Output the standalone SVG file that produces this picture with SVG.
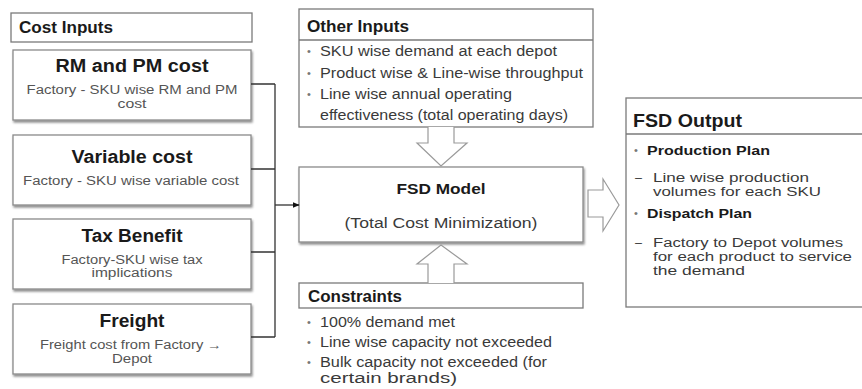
<svg xmlns="http://www.w3.org/2000/svg" width="862" height="389" viewBox="0 0 862 389">
  <defs>
    <filter id="shadow" x="-5%" y="-10%" width="115%" height="130%">
      <feDropShadow dx="1" dy="2" stdDeviation="1" flood-color="#000" flood-opacity="0.45"/>
    </filter>
    <marker id="head" viewBox="0 0 10 10" refX="9" refY="5" markerWidth="7" markerHeight="7" orient="auto" markerUnits="userSpaceOnUse">
      <path d="M0,1 L10,5 L0,9 Z" fill="#111"/>
    </marker>
    <style>
      text { font-family: "Liberation Sans", Arial, sans-serif; }
      .box { fill: #fff; stroke: #7a7a7a; stroke-width: 1.3; }
      .card { fill: #fff; stroke: #8a8a8a; stroke-width: 1.3; filter: url(#shadow); }
      .head { font-weight: bold; font-size: 16px; fill: #1a1a1a; }
      .ttl { font-weight: bold; font-size: 18px; fill: #1a1a1a; text-anchor: middle; }
      .sub { font-size: 12px; fill: #555; text-anchor: middle; }
      .body { font-size: 14px; fill: #3a3a3a; }
      .out { font-size: 12.5px; fill: #3a3a3a; }
      .bul { font-size: 11px; fill: #777; }
      .bold { font-weight: bold; fill: #1a1a1a; }
      .wire { fill: none; stroke: #333; stroke-width: 1.3; }
      .hollow { fill: #fff; stroke: #9a9a9a; stroke-width: 1.2; }
    </style>
  </defs>

  <!-- cost inputs column -->
  <g id="cost-inputs">
    <rect class="box" x="11" y="13" width="241" height="29"/>
    <text class="head" x="19" y="33" textLength="94" lengthAdjust="spacingAndGlyphs">Cost Inputs</text>
  </g>

  <g id="rm-pm-cost">
    <rect class="card" x="13" y="50" width="238" height="70"/>
    <text class="ttl" x="132" y="72" textLength="153" lengthAdjust="spacingAndGlyphs">RM and PM cost</text>
    <text class="sub" x="132" y="94" textLength="211" lengthAdjust="spacingAndGlyphs">Factory - SKU wise RM and PM</text>
    <text class="sub" x="132" y="108" textLength="29" lengthAdjust="spacingAndGlyphs">cost</text>
  </g>

  <g id="variable-cost">
    <rect class="card" x="13" y="135" width="238" height="70"/>
    <text class="ttl" x="132" y="163" textLength="121" lengthAdjust="spacingAndGlyphs">Variable cost</text>
    <text class="sub" x="131" y="185" textLength="216" lengthAdjust="spacingAndGlyphs">Factory - SKU wise variable cost</text>
  </g>

  <g id="tax-benefit">
    <rect class="card" x="13" y="219" width="238" height="70"/>
    <text class="ttl" x="132" y="242" textLength="101" lengthAdjust="spacingAndGlyphs">Tax Benefit</text>
    <text class="sub" x="132" y="264" textLength="141" lengthAdjust="spacingAndGlyphs">Factory-SKU wise tax</text>
    <text class="sub" x="132" y="277" textLength="81" lengthAdjust="spacingAndGlyphs">implications</text>
  </g>

  <g id="freight">
    <rect class="card" x="13" y="304" width="238" height="70"/>
    <text class="ttl" x="132" y="327" textLength="65" lengthAdjust="spacingAndGlyphs">Freight</text>
    <text class="sub" x="131" y="349" textLength="182" lengthAdjust="spacingAndGlyphs">Freight cost from Factory →</text>
    <text class="sub" x="132" y="363" textLength="40" lengthAdjust="spacingAndGlyphs">Depot</text>
  </g>

  <!-- other inputs -->
  <g id="other-inputs">
    <rect class="box" x="299" y="9" width="294" height="118"/>
    <line x1="299" y1="40" x2="593" y2="40" stroke="#7a7a7a" stroke-width="1.3"/>
    <text class="head" x="307" y="32" textLength="102" lengthAdjust="spacingAndGlyphs">Other Inputs</text>
    <text class="bul" x="307" y="55">•</text>
    <text class="body" x="320" y="56" textLength="237" lengthAdjust="spacingAndGlyphs">SKU wise demand at each depot</text>
    <text class="bul" x="307" y="77">•</text>
    <text class="body" x="320" y="78" textLength="263" lengthAdjust="spacingAndGlyphs">Product wise &amp; Line-wise throughput</text>
    <text class="bul" x="307" y="98">•</text>
    <text class="body" x="320" y="99" textLength="192" lengthAdjust="spacingAndGlyphs">Line wise annual operating</text>
    <text class="body" x="320" y="120" textLength="248" lengthAdjust="spacingAndGlyphs">effectiveness (total operating days)</text>
  </g>

  <!-- model -->
  <g id="fsd-model">
    <rect class="card" x="299" y="167" width="284" height="75"/>
    <text class="bold" x="441" y="194" font-size="15" text-anchor="middle" textLength="89" lengthAdjust="spacingAndGlyphs">FSD Model</text>
    <text class="body" x="441" y="228" text-anchor="middle" textLength="193" lengthAdjust="spacingAndGlyphs">(Total Cost Minimization)</text>
  </g>

  <!-- constraints -->
  <g id="constraints">
    <rect class="box" x="299" y="283" width="284" height="25"/>
    <text class="head" x="308" y="302" textLength="94" lengthAdjust="spacingAndGlyphs">Constraints</text>
    <text class="bul" x="307" y="326">•</text>
    <text class="body" x="320" y="327" textLength="135" lengthAdjust="spacingAndGlyphs">100% demand met</text>
    <text class="bul" x="307" y="346">•</text>
    <text class="body" x="320" y="347" textLength="232" lengthAdjust="spacingAndGlyphs">Line wise capacity not exceeded</text>
    <text class="bul" x="307" y="366">•</text>
    <text class="body" x="320" y="367" textLength="227" lengthAdjust="spacingAndGlyphs">Bulk capacity not exceeded (for</text>
    <text class="body" x="320" y="383" textLength="137" lengthAdjust="spacingAndGlyphs">certain brands)</text>
  </g>

  <!-- output -->
  <g id="fsd-output">
    <rect class="box" x="626" y="98" width="240" height="209"/>
    <line x1="626" y1="134" x2="862" y2="134" stroke="#7a7a7a" stroke-width="1.3"/>
    <text class="bold" x="633" y="127" font-size="18" textLength="109" lengthAdjust="spacingAndGlyphs">FSD Output</text>
    <text class="bul" x="634" y="154">•</text>
    <text class="out bold" x="647" y="155" font-size="14" textLength="123" lengthAdjust="spacingAndGlyphs">Production Plan</text>
    <text class="out" x="635" y="182">–</text>
    <text class="out" x="653" y="182" textLength="156" lengthAdjust="spacingAndGlyphs">Line wise production</text>
    <text class="out" x="653" y="196" textLength="168" lengthAdjust="spacingAndGlyphs">volumes for each SKU</text>
    <text class="bul" x="634" y="217">•</text>
    <text class="out bold" x="647" y="218" font-size="14" textLength="105" lengthAdjust="spacingAndGlyphs">Dispatch Plan</text>
    <text class="out" x="635" y="247">–</text>
    <text class="out" x="653" y="247" textLength="190" lengthAdjust="spacingAndGlyphs">Factory to Depot volumes</text>
    <text class="out" x="653" y="261" textLength="199" lengthAdjust="spacingAndGlyphs">for each product to service</text>
    <text class="out" x="653" y="275" textLength="92" lengthAdjust="spacingAndGlyphs">the demand</text>
  </g>

  <!-- connectors -->
  <g id="connectors">
    <path class="wire" d="M251,84 H275 M251,169 H275 M251,252 H275 M251,337 H275 M275,84 V337"/>
    <line class="wire" x1="275" y1="205" x2="299" y2="205" marker-end="url(#head)"/>
    <!-- hollow block arrows -->
    <path class="hollow" d="M428,127 V143 H417 L441,166 L467,143 H454 V127"/>
    <path class="hollow" d="M428,283 V264 H417 L441,245 L467,264 H454 V283"/>
    <path class="hollow" d="M588,190 H603 V179 L619,205 L603,231 V217 H588 Z"/>
  </g>
</svg>
